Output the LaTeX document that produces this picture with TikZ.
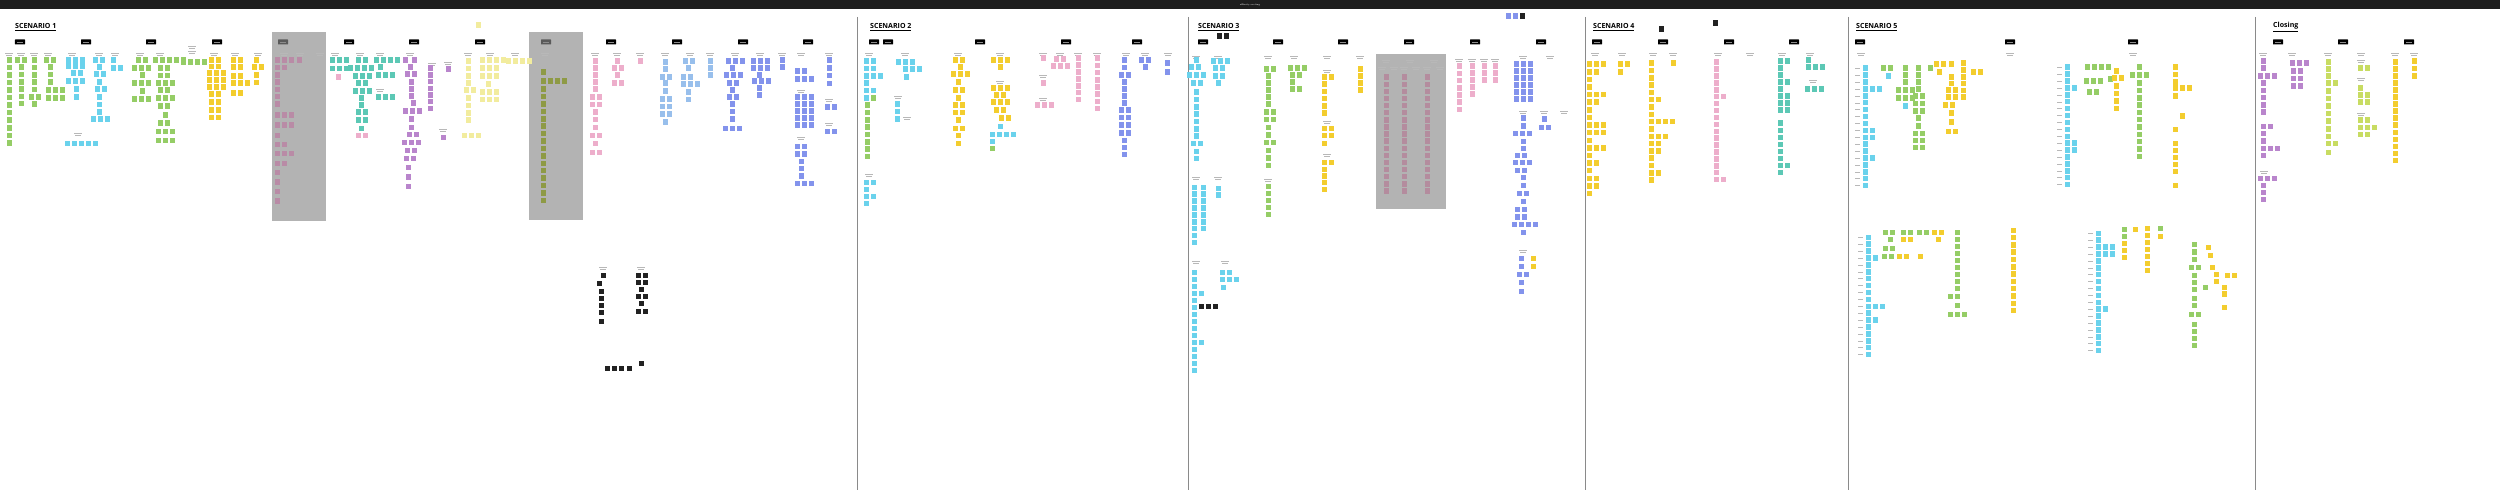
\documentclass[tikz,border=0pt]{standalone}
\usepackage{fontspec}
\newfontfamily\ttlfont{Open Sans}
\definecolor{cGr}{HTML}{95CD66}
\definecolor{cCy}{HTML}{6AD2EC}
\definecolor{cYe}{HTML}{F3CD2E}
\definecolor{cPm}{HTML}{B98BA6}
\definecolor{cPg}{HTML}{B48C9E}
\definecolor{cPu}{HTML}{B985CC}
\definecolor{cTe}{HTML}{5CC8B5}
\definecolor{cLy}{HTML}{F2EC9E}
\definecolor{cOl}{HTML}{8E9A45}
\definecolor{cPk}{HTML}{EDAECB}
\definecolor{cLb}{HTML}{98BFEC}
\definecolor{cIn}{HTML}{8393EC}
\definecolor{cLi}{HTML}{C8DC62}
\definecolor{cBk}{HTML}{222222}
\definecolor{cBar}{HTML}{1E1E1E}
\definecolor{cBox}{HTML}{B3B3B3}
\definecolor{cDiv}{HTML}{8A8A8A}
\definecolor{cLbl}{HTML}{B8B8B8}
\definecolor{cDk}{HTML}{5A5A5A}
% row groups: [step]{x}{y}{colour}{squares per row}
\newcommand\grp[5][7.2]{\foreach \k [count=\i from 0] in {#5}{\foreach \j in {1,...,\k}{\fill[#4] ({#2+(\j-1)*7},{#3+\i*#1}) rectangle ++(5.5,5.5);}}}
% single column of n stickies
\newcommand\colm[5][7.2]{\foreach \i in {1,...,#5}{\fill[#4] (#2,{#3+(\i-1)*#1}) rectangle ++(5.5,5.5);}}
% tiny column label
\newcommand\lbl[2]{\draw[cLbl,line width=0.6pt] ({#1-4},#2) -- ({#1+4},#2); \draw[cLbl,line width=0.4pt] ({#1-3},{#2+1.8}) -- ({#1+3},{#2+1.8});}
% header tag
\newcommand\hdr[3]{\node[tagbox,fill=#3] (#1) at (#2,42) {}; \draw[white!55!black,line width=0.4pt] ({#2-3},42) -- ({#2+3},42);}
\begin{document}
\begin{tikzpicture}[x=0.04cm,y=-0.04cm,
  tagbox/.style={minimum width=0.4cm,minimum height=0.2cm,inner sep=0pt,rounded corners=0.4pt},
  ttl/.style={anchor=west,inner sep=0pt,font=\ttlfont\bfseries\fontsize{8}{9}\selectfont}]
\useasboundingbox (0,0) rectangle (2500,498);
\fill[white] (0,0) rectangle (2500,498);
\fill[cBar] (0,0) rectangle (2500,9);
\node[text=white,font=\fontsize{2.6}{3}\selectfont] (top) at (1250,4.5) {affinity sorting};
% grey boxes
\fill[cBox] (272,32) rectangle (326,221);
\fill[cBox] (529,32) rectangle (583,220);
\fill[cBox] (1376,54) rectangle (1446,209);
% dividers
\foreach \x in {857,1188,1585,1848,2255} \draw[cDiv,line width=0.8pt] (\x,17) -- (\x,490);
% titles
\node[ttl] (s1) at (15,27) {\underline{SCENARIO 1}};
\node[ttl] (s2) at (870,27) {\underline{SCENARIO 2}};
\node[ttl] (s3) at (1198,27) {\underline{SCENARIO 3}};
\node[ttl] (s4) at (1593,27) {\underline{SCENARIO 4}};
\node[ttl] (s5) at (1856,27) {\underline{SCENARIO 5}};
\node[ttl] (cl) at (2273,27) {\underline{Closing}};
% header tags
\hdr{a1}{20}{black}\hdr{a2}{86}{black}\hdr{a3}{151}{black}\hdr{a4}{217}{black}\hdr{a5}{283}{cDk}\hdr{a6}{349}{black}\hdr{a7}{414}{black}
\hdr{a8}{480}{black}\hdr{a9}{546}{cDk}\hdr{a10}{611}{black}\hdr{a11}{677}{black}\hdr{a12}{743}{black}\hdr{a13}{808}{black}
\hdr{b1}{874}{black}\hdr{b2}{888}{black}\hdr{b3}{980}{black}\hdr{b4}{1066}{black}\hdr{b5}{1137}{black}
\hdr{c1}{1203}{black}\hdr{c2}{1278}{black}\hdr{c3}{1343}{black}\hdr{c4}{1409}{black}\hdr{c5}{1475}{black}\hdr{c6}{1541}{black}
\hdr{d1}{1597}{black}\hdr{d2}{1663}{black}\hdr{d3}{1729}{black}\hdr{d4}{1794}{black}
\hdr{e1}{1860}{black}\hdr{e2}{2010}{black}\hdr{e3}{2133}{black}
\hdr{f1}{2278}{black}\hdr{f2}{2343}{black}\hdr{f3}{2409}{black}
% labels
\foreach \x in {9,21,34,48,72,99,115,140,160,214,235,258,284,300,320,335,360,380,410,468,490,515,545,595,617,640,665,690,710,735,760,782,801,829} {\lbl{\x}{53}}
\lbl{192}{46}\lbl{192}{51}\lbl{432}{63}\lbl{448}{62}\lbl{443}{129}\lbl{78}{133}\lbl{380}{89}\lbl{801}{90}\lbl{801}{137}\lbl{829}{99}\lbl{829}{123}\lbl{603}{267}\lbl{641}{267}
\foreach \x in {869,905,958,1000,1043,1060,1078,1097,1126,1145,1168} {\lbl{\x}{53}}
\lbl{898}{96}\lbl{907}{117}\lbl{869}{174}\lbl{1000}{81}\lbl{1043}{75}\lbl{1043}{98}
\foreach \x in {1196,1218,1268,1294,1327,1360,1523,1550} {\lbl{\x}{56}}
\foreach \x in {1459,1472,1484,1495} {\lbl{\x}{59}}
\foreach \x in {1386,1410,1434} {\lbl{\x}{60}}
\foreach \x in {1382,1394,1404,1416,1427,1440} {\lbl{\x}{67}}
\lbl{1327}{70}\lbl{1327}{121}\lbl{1327}{154}\lbl{1268}{179}\lbl{1196}{177}\lbl{1218}{177}\lbl{1196}{261}\lbl{1225}{261}\lbl{1523}{111}\lbl{1544}{111}\lbl{1564}{111}\lbl{1523}{250}
\foreach \x in {1595,1622,1653,1673,1718,1750,1782,1810,1861,2010,2133,2263,2292,2328,2361,2395,2414} {\lbl{\x}{53}}
\lbl{1813}{80}\lbl{2361}{60}\lbl{2361}{78}\lbl{2361}{113}\lbl{2264}{171}
% row ticks beside cyan columns (scenario 5)
\foreach \r in {0,...,17} {\draw[cLbl,line width=0.5pt] (1855,{68.3+\r*6.9}) -- (1860,{68.3+\r*6.9});
  \draw[cLbl,line width=0.5pt] (2057,{67.3+\r*6.9}) -- (2062,{67.3+\r*6.9});
  \draw[cLbl,line width=0.5pt] (1858,{237.3+\r*6.9}) -- (1863,{237.3+\r*6.9});
  \draw[cLbl,line width=0.5pt] (2088,{233.3+\r*6.9}) -- (2093,{233.3+\r*6.9});}
\begin{scope}[shift={(-2.5,-2.5)}]
% ===== Scenario 1
\colm[7.5]{9}{60}{cGr}{12}
\grp{17}{60}{cGr}{2}\colm[7.3]{21}{67}{cGr}{6}
\colm[7.3]{34}{60}{cGr}{5}\grp{31}{97}{cGr}{2}\grp{34}{104}{cGr}{1}
\grp{46}{60}{cGr}{2}\colm[7.5]{50}{67}{cGr}{3}\grp[8]{48}{90}{cGr}{3,3}
\grp[6]{68}{60}{cCy}{3,3}\grp{73}{73}{cCy}{2}\grp{68}{81}{cCy}{3}\colm[8]{76}{89}{cCy}{2}
\grp{95}{60}{cCy}{2}\grp{99}{67}{cCy}{1}\grp{96}{74}{cCy}{2}\grp{99}{82}{cCy}{1}\grp{97}{89}{cCy}{2}\colm[7.5]{99}{97}{cCy}{3}\grp{93}{119}{cCy}{3}
\grp{113}{60}{cCy}{1}\grp{113}{68}{cCy}{2}
\grp{67}{143}{cCy}{5}
\grp{138}{60}{cGr}{2}\grp{134}{68}{cGr}{3}\grp{142}{75}{cGr}{1}\grp{134}{83}{cGr}{3}\grp{142}{91}{cGr}{1}\grp{134}{99}{cGr}{3}
\grp{155}{60}{cGr}{5}\grp[7.5]{160}{68}{cGr}{2,2}\grp{158}{83}{cGr}{3}\grp{160}{90}{cGr}{2}\grp{158}{98}{cGr}{3}\grp{160}{106}{cGr}{2}\grp{165}{115}{cGr}{1}\grp{160}{123}{cGr}{2}\grp[9]{158}{131}{cGr}{3,3}
\grp{183}{62}{cGr}{4}
\grp[6.5]{211}{60}{cYe}{2,2}\grp[7]{209}{73}{cYe}{3,3,3}\grp[7.8]{211}{94}{cYe}{2,2,2,2}
\grp[7]{233}{60}{cYe}{2,2}\grp{233}{76}{cYe}{2}\grp{233}{83}{cYe}{3}\grp{233}{93}{cYe}{2}
\grp{256}{60}{cYe}{1}\grp{254}{67}{cYe}{2}\colm[7.5]{256}{75}{cYe}{2}
\grp[7.3]{277}{60}{cPm}{3,2,1,1,1,1,1}\grp[10]{277}{115}{cPm}{3,3}\grp{277}{135}{cPm}{1}\grp{277}{144}{cPm}{2}\grp{277}{153}{cPm}{3}\grp{277}{163}{cPm}{2}\colm[9.5]{277}{172}{cPm}{4}
\grp{299}{60}{cPm}{1}
\grp[8.3]{332}{60}{cTe}{3,3}\grp{338}{77}{cPk}{1}
\grp{358}{60}{cTe}{2}\grp{350}{68}{cTe}{4}\grp{355}{76}{cTe}{3}\grp{358}{83}{cTe}{2}\grp{355}{91}{cTe}{3}\colm[7]{361}{98}{cTe}{2}\grp[8]{358}{112}{cTe}{2,2}\grp{361}{128}{cTe}{1}\grp{358}{135}{cPk}{2}
\grp{376}{60}{cTe}{4}\grp{380}{67}{cTe}{1}\grp{378}{75}{cTe}{3}\grp{378}{97}{cTe}{3}
\grp{405}{60}{cPu}{1}\grp{414}{60}{cPu}{1}\grp{410}{67}{cPu}{1}\grp{407}{74}{cPu}{2}\colm[7]{411}{82}{cPu}{3}\grp{413}{103}{cPu}{1}\grp{405}{111}{cPu}{3}\colm[8]{411}{119}{cPu}{2}\grp{409}{134}{cPu}{2}\grp{404}{142}{cPu}{3}\grp{407}{150}{cPu}{2}\grp{406}{158}{cPu}{2}\colm[9.5]{408}{167}{cPu}{3}
\colm[6.7]{430}{68}{cPu}{7}
\grp{448}{69}{cPu}{1}\grp{443}{137}{cPu}{1}
\colm[7.3]{468}{61}{cLy}{4}\grp{466}{90}{cLy}{2}\colm[7.3]{468}{98}{cLy}{4}\grp{464}{135}{cLy}{3}
\grp[8]{482}{60}{cLy}{4,3,3}\grp{488}{84}{cLy}{1}\grp[7.5]{482}{92}{cLy}{3,3}
\grp{508}{61}{cLy}{4}
\grp{478}{25}{cLy}{1}
\grp{543}{72}{cOl}{1}\grp{543}{81}{cOl}{4}\colm[7.4]{543}{89}{cOl}{16}
\colm[7]{595}{61}{cPk}{5}\grp[7.5]{592}{97}{cPk}{2,2}\colm[7.5]{595}{112}{cPk}{3}\grp{592}{135}{cPk}{2}\grp{595}{143}{cPk}{1}\grp{592}{152}{cPk}{2}
\grp{617}{61}{cPk}{1}\grp{614}{68}{cPk}{2}\grp{617}{75}{cPk}{1}\grp{614}{83}{cPk}{2}
\grp{640}{61}{cPk}{1}
\colm[6.7]{665}{62}{cLb}{2}\grp{662}{77}{cLb}{2}\colm[8]{665}{83}{cLb}{2}\grp[7.5]{662}{99}{cLb}{2,2,2}\grp{665}{122}{cLb}{1}
\grp{685}{61}{cLb}{2}\grp{688}{68}{cLb}{1}\grp{683}{77}{cLb}{2}\grp{683}{84}{cLb}{3}\colm[7.5]{688}{92}{cLb}{2}
\colm[7]{710}{61}{cLb}{3}
\grp{728}{61}{cIn}{3}\grp{732}{68}{cIn}{1}\grp{726}{75}{cIn}{3}\grp{729}{83}{cIn}{2}\grp{732}{90}{cIn}{1}\grp{729}{97}{cIn}{2}\colm[7.5]{732}{104}{cIn}{3}\grp{725}{128}{cIn}{3}
\grp[7]{753}{61}{cIn}{3,3}\grp{759}{75}{cIn}{1}\grp{754}{81}{cIn}{3}\colm[7]{759}{88}{cIn}{2}
\colm[7]{782}{60}{cIn}{2}
\grp{797}{71}{cIn}{2}\grp{797}{79}{cIn}{3}\grp[7]{797}{97}{cIn}{3,3,3,3,3}\grp[7.5]{797}{146}{cIn}{2,2}\colm[7.3]{801}{161}{cIn}{3}\grp{797}{183}{cIn}{3}
\colm[7.7]{829}{60}{cIn}{4}\grp{827}{107}{cIn}{2}\grp{827}{131}{cIn}{2}
% black group
\grp{603}{275}{cBk}{1}\grp{599}{283}{cBk}{1}\colm[7]{601}{291}{cBk}{4}\grp{601}{321}{cBk}{1}
\grp[7]{638}{275}{cBk}{2,2}\grp{641}{289}{cBk}{1}\grp{638}{296}{cBk}{2}\grp{641}{303}{cBk}{1}\grp{638}{311}{cBk}{2}
\grp{641}{363}{cBk}{1}\grp{607}{368}{cBk}{3}\grp{629}{368}{cBk}{1}
% ===== Scenario 2
\grp[7.3]{866}{61}{cCy}{2,2,3,1,2}\grp{866}{98}{cCy}{1}\grp{873}{98}{cGr}{1}\colm[7.3]{867}{105}{cGr}{8}
\grp{898}{62}{cCy}{3}\grp{905}{69}{cCy}{3}\grp{906}{77}{cCy}{1}
\colm[7.5]{897}{104}{cCy}{3}
\grp{866}{182}{cCy}{2}\grp{866}{189}{cCy}{1}\grp{866}{196}{cCy}{2}\grp{866}{203}{cCy}{1}
\grp{955}{60}{cYe}{2}\grp{960}{67}{cYe}{1}\grp{953}{74}{cYe}{3}\grp{958}{82}{cYe}{1}\grp{955}{90}{cYe}{2}\grp{958}{98}{cYe}{1}\grp[7.5]{955}{105}{cYe}{2,2}\grp{958}{120}{cYe}{1}\grp{955}{128}{cYe}{2}\colm[8]{958}{135}{cYe}{2}
\grp{993}{60}{cYe}{3}\grp{1000}{67}{cYe}{1}\grp{993}{88}{cYe}{3}\grp{996}{95}{cYe}{2}\grp{993}{102}{cYe}{3}\grp{996}{110}{cYe}{2}\grp{1001}{118}{cYe}{2}
\grp{1000}{126}{cCy}{1}\grp{992}{134}{cCy}{4}\grp{992}{141}{cCy}{1}\grp{992}{148}{cGr}{1}
\grp{1043}{58}{cPk}{1}\grp{1043}{83}{cPk}{1}\grp{1037}{105}{cPk}{3}
\grp{1056}{59}{cPk}{2}\grp{1053}{66}{cPk}{3}
\colm[6.9]{1078}{58}{cPk}{7}
\colm[7.2]{1097}{58}{cPk}{8}
\colm[7.5]{1124}{60}{cIn}{2}\grp{1121}{75}{cIn}{2}\colm[7]{1124}{82}{cIn}{4}\grp[7.5]{1121}{110}{cIn}{2,2,2,2}\colm[7]{1124}{140}{cIn}{3}
\grp{1141}{60}{cIn}{2}\grp{1145}{67}{cIn}{1}
\grp{1167}{63}{cIn}{1}\grp{1167}{72}{cIn}{1}
% ===== Scenario 3
\grp{1219}{36}{cBk}{2}
\grp{1508}{16}{cIn}{2}\grp{1522}{16}{cBk}{1}
\grp{1196}{60}{cCy}{1}\grp{1191}{67}{cCy}{2}\grp{1189}{75}{cCy}{3}\grp{1193}{83}{cCy}{2}\colm[7.3]{1196}{92}{cCy}{7}\grp{1193}{143}{cCy}{2}\colm[7]{1196}{151}{cCy}{2}
\grp{1213}{61}{cCy}{3}\grp[8]{1215}{68}{cCy}{2,2}\grp{1218}{83}{cCy}{1}
\colm[6.9]{1194}{187}{cCy}{9}\colm[6.9]{1203}{187}{cCy}{7}
\colm[6.7]{1218}{188}{cCy}{2}
\colm[7]{1194}{272}{cCy}{4}\grp{1201}{293}{cCy}{1}\colm[7]{1194}{300}{cCy}{11}\grp{1201}{342}{cCy}{1}
\grp{1201}{306}{cBk}{3}
\grp{1222}{272}{cCy}{2}\grp{1222}{279}{cCy}{3}\grp{1223}{287}{cCy}{1}
\grp{1266}{69}{cGr}{2}\colm[7]{1268}{76}{cGr}{5}\grp[7.5]{1266}{112}{cGr}{2,2}\colm[7.5]{1268}{127}{cGr}{2}\grp{1266}{142}{cGr}{2}\colm[7.5]{1268}{150}{cGr}{3}
\colm[7]{1268}{186}{cGr}{5}
\grp{1290}{68}{cGr}{3}\grp{1292}{75}{cGr}{2}\grp{1292}{82}{cGr}{1}\grp{1292}{89}{cGr}{2}
\grp{1324}{77}{cYe}{2}\colm[7.2]{1324}{84}{cYe}{5}\grp[7]{1324}{128}{cYe}{2,2}\grp{1324}{143}{cYe}{1}\grp{1324}{162}{cYe}{2}\colm[6.7]{1324}{169}{cYe}{4}
\colm[7]{1360}{69}{cYe}{4}
\colm[7.1]{1386}{77}{cPg}{17}\colm[7.1]{1404}{77}{cPg}{17}\colm[7.1]{1427}{77}{cPg}{17}
\colm[7.2]{1459}{66}{cPk}{7}\colm[7]{1472}{66}{cPk}{5}\colm[7]{1484}{66}{cPk}{3}\colm[7]{1495}{66}{cPk}{3}
\grp[7]{1516}{64}{cIn}{3,3,3,3,3,3}
\colm[7.5]{1523}{118}{cIn}{2}\grp{1515}{133}{cIn}{3}\colm[7]{1523}{141}{cIn}{2}\grp{1517}{155}{cIn}{2}\grp{1515}{162}{cIn}{3}\grp{1517}{170}{cIn}{2}\colm[8]{1523}{177}{cIn}{2}\grp{1519}{193}{cIn}{2}\grp{1523}{201}{cIn}{1}\grp[7.5]{1517}{209}{cIn}{2,2}\grp{1514}{224}{cIn}{4}\grp{1523}{232}{cIn}{1}
\grp{1544}{119}{cIn}{1}\grp{1541}{127}{cIn}{2}
\grp{1521}{258}{cIn}{1}\grp{1533}{258}{cYe}{1}\grp{1521}{266}{cIn}{1}\grp{1533}{266}{cYe}{1}\grp{1519}{274}{cIn}{2}\colm[9]{1521}{282}{cIn}{2}
% ===== Scenario 4
\grp{1661}{29}{cBk}{1}\grp{1715}{23}{cBk}{1}
\grp[7.6]{1589}{64}{cYe}{3,2,1,1,3,2,1,1,3,3,1,3,1,2,1,2,2,1}
\grp[8]{1620}{64}{cYe}{2,1}
\grp[7.3]{1651}{63}{cYe}{1,1,1,1,1,2,1,1,4,1,3,2,2,1,1,2,1}
\grp{1673}{63}{cYe}{1}
\grp[6.9]{1716}{62}{cPk}{1,1,1,1,1,2,1,1,1,1,1,1,1,1,1,1,1,2}
\grp[7]{1780}{61}{cTe}{2,1,1,2,1,2,2,2}\grp[7]{1780}{123}{cTe}{1,1,1,1,1,1,2,1}
\grp{1808}{60}{cTe}{1}\grp{1808}{67}{cTe}{3}\grp{1807}{89}{cTe}{3}
% ===== Scenario 5
\grp[6.9]{1865}{68}{cCy}{1,1,1,3,1,1,1,1,1,2,2,1,1,2,1,1,1,1}
\grp{1883}{68}{cGr}{2}\grp{1888}{76}{cCy}{1}
\colm[7]{1905}{68}{cGr}{3}\grp[8]{1898}{90}{cGr}{3,3}\grp{1905}{106}{cCy}{1}
\colm[7]{1918}{68}{cGr}{4}\grp[7.5]{1915}{96}{cGr}{2,2,2}\colm[7.5]{1918}{118}{cGr}{2}\grp[7]{1915}{133}{cGr}{2,2,2}
\grp{1930}{68}{cGr}{1}
\grp{1936}{64}{cYe}{2}\grp{1939}{72}{cYe}{1}
\grp{1951}{64}{cYe}{1}\colm[6.5]{1951}{77}{cYe}{2}\grp[7]{1948}{90}{cYe}{2,2}\grp{1945}{105}{cYe}{2}\colm[9]{1951}{113}{cYe}{2}\grp{1948}{131}{cYe}{2}
\colm[6.8]{1963}{63}{cYe}{6}\grp{1973}{72}{cYe}{2}
\grp[6.9]{2067}{67}{cCy}{1,1,1,2,1,1,1,1,1,1,1,2,2,1,1,1,1,1}
\grp{2087}{67}{cGr}{2}\grp{2101}{67}{cGr}{2}\grp{2086}{81}{cGr}{3}\grp{2089}{92}{cGr}{2}\grp{2110}{79}{cGr}{1}
\grp{2116}{71}{cYe}{1}\grp{2114}{78}{cYe}{2}\colm[7.5]{2116}{86}{cYe}{4}
\grp{2139}{67}{cGr}{1}\grp{2132}{75}{cGr}{3}\colm[7.3]{2139}{83}{cGr}{11}
\colm[7.3]{2175}{67}{cYe}{3}\grp{2175}{88}{cYe}{3}\grp{2175}{96}{cYe}{1}\grp{2182}{116}{cYe}{1}\grp{2175}{129}{cYe}{1}\colm[7]{2175}{143}{cYe}{5}\grp{2175}{185}{cYe}{1}
% lower scenario 5
\grp[6.9]{1868}{237}{cCy}{1,1,1,2,1,1,1,1,1,1,3,1,2,1,1,1,1,1}
\grp{1885}{232}{cGr}{2}\grp{1903}{232}{cGr}{2}\grp{1919}{232}{cGr}{2}\grp{1934}{232}{cYe}{2}
\grp{1890}{239}{cGr}{1}\grp{1903}{239}{cYe}{2}\grp{1938}{239}{cYe}{1}
\grp{1885}{248}{cGr}{2}
\grp{1884}{256}{cGr}{2}\grp{1899}{256}{cYe}{2}\grp{1920}{256}{cYe}{1}
\colm[7]{1957}{232}{cGr}{9}\grp{1950}{296}{cGr}{2}\grp{1957}{305}{cGr}{1}\grp{1950}{314}{cGr}{3}
\colm[7.3]{2013}{230}{cYe}{12}
\grp[6.9]{2098}{233}{cCy}{1,1,3,3,1,1,1,1,1,1,1,2,1,1,1,1,1,1}
\colm[7]{2124}{229}{cGr}{2}\colm[7]{2124}{243}{cYe}{3}
\grp{2135}{229}{cYe}{1}
\colm[7]{2147}{228}{cYe}{7}
\grp{2160}{228}{cGr}{1}\grp{2160}{236}{cYe}{1}
\colm[7.7]{2194}{244}{cGr}{3}\grp{2191}{267}{cGr}{2}\colm[7]{2194}{275}{cGr}{3}\grp{2205}{287}{cGr}{1}\colm[7]{2194}{298}{cGr}{2}\grp{2191}{314}{cGr}{2}\colm[7]{2194}{324}{cGr}{4}
\grp{2208}{247}{cYe}{1}\grp{2210}{255}{cYe}{1}\grp{2212}{267}{cYe}{1}\grp{2216}{274}{cYe}{1}\grp{2216}{281}{cYe}{1}\grp{2227}{275}{cYe}{2}\colm[6.5]{2224}{287}{cYe}{2}\grp{2224}{307}{cYe}{1}
% ===== Closing
\colm[7]{2263}{61}{cPu}{2}\grp{2260}{76}{cPu}{3}\colm[7.2]{2263}{83}{cPu}{5}\grp{2263}{126}{cPu}{2}\colm[7.5]{2263}{133}{cPu}{2}\grp{2263}{148}{cPu}{3}\grp{2263}{155}{cPu}{1}
\grp{2260}{178}{cPu}{3}\colm[7]{2263}{185}{cPu}{3}
\grp{2292}{63}{cPu}{3}\grp[7.5]{2293}{71}{cPu}{2,2,2}
\colm[7]{2328}{62}{cLi}{3}\grp{2328}{83}{cLi}{2}\colm[7.5]{2328}{91}{cLi}{7}\grp{2328}{143}{cLi}{2}\grp{2328}{152}{cLi}{1}
\grp{2360}{68}{cLi}{2}\grp{2360}{88}{cLi}{1}\grp[7]{2360}{95}{cLi}{2,2}\grp{2360}{120}{cLi}{2}\grp{2360}{127}{cLi}{3}\grp{2360}{134}{cLi}{2}
\colm[7]{2395}{62}{cYe}{15}
\colm[7.5]{2414}{61}{cYe}{3}
\end{scope}
\end{tikzpicture}
\end{document}
